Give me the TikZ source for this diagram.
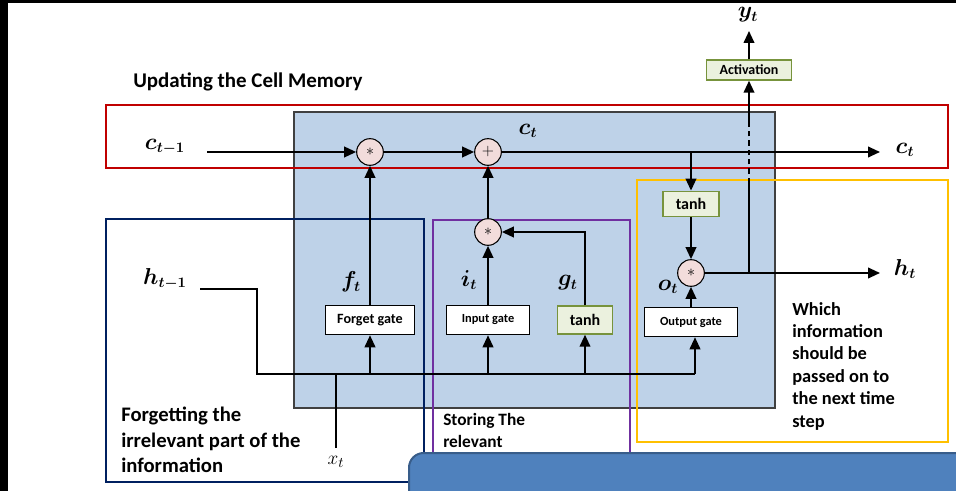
\documentclass[tikz,border=0pt]{standalone}
\usepackage{fontspec}
\setmainfont{Carlito}
\usepackage{bm}
\usetikzlibrary{arrows.meta, positioning, calc}

\definecolor{cellblue}{RGB}{190,210,232}
\definecolor{cellgrey}{RGB}{64,64,64}
\definecolor{redframe}{RGB}{192,0,0}
\definecolor{navyframe}{RGB}{0,32,96}
\definecolor{purpleframe}{RGB}{112,48,160}
\definecolor{yellowframe}{RGB}{255,192,0}
\definecolor{fnfill}{RGB}{235,241,222}
\definecolor{fngreen}{RGB}{119,147,60}
\definecolor{oppink}{RGB}{242,220,219}
\definecolor{bannerblue}{RGB}{79,129,189}
\definecolor{bannerdark}{RGB}{56,93,138}

\begin{document}
\begin{tikzpicture}[x=0.75pt, y=-0.75pt, >={Triangle[length=9pt,width=8pt]},
  flow/.style = {line width=1.4pt},
  op/.style   = {circle, draw, line width=0.8pt, fill=oppink,
                 minimum size=20pt, inner sep=0pt, font=\large},
  gate/.style = {draw, line width=0.9pt, fill=white, minimum height=22pt,
                 inner sep=1pt, font=\fontsize{9.3}{10}\selectfont\bfseries},
  fn/.style   = {draw=fngreen, line width=1.1pt, fill=fnfill, inner sep=1pt,
                 font=\fontsize{12}{13}\selectfont\bfseries},
  var/.style  = {font=\fontsize{16}{18}\selectfont},
  note/.style = {align=left, anchor=north west, inner sep=0pt}
]
\useasboundingbox (0,0) rectangle (956,491);
\clip (0,0) rectangle (956,491);

%% Screen edges
\fill[black] (0,0) rectangle (956,3);
\fill[black] (0,0) rectangle (8,491);

%% LSTM cell
\draw[fill=cellblue, draw=cellgrey, line width=1.5pt] (294,112) rectangle (775,408);

%% Highlight frames
\draw[redframe, line width=2pt]      (106,105) rectangle (948,168);
\draw[navyframe, line width=1.5pt]   (106,219) rectangle (424,482);
\draw[purpleframe, line width=1.5pt] (433,220) rectangle (630,500);
\draw[yellowframe, line width=2pt]   (637,180) rectangle (948,442);

\node[anchor=base west, inner sep=0pt, font=\fontsize{15.7}{18}\selectfont\bfseries] (title) at (133,88)
  {Updating the Cell Memory};

%% --- Pointwise operations ---
\node[op] (mulf) at (370,152) {$\ast$};
\node[op] (add)  at (488,152) {$+$};
\node[op] (muli) at (488,232) {$\ast$};
\node[op] (mulo) at (691,273) {$\ast$};

%% --- Gates and activations ---
\node[gate, minimum width=67pt, font=\fontsize{10.6}{11}\selectfont\bfseries] (fgate) at (370,320) {Forget gate};
\node[gate, minimum width=62pt] (igate) at (488,320) {Input gate};
\node[gate, minimum width=70pt] (ogate) at (691,322) {Output gate};
\node[fn, minimum width=41pt, minimum height=21pt] (gtanh) at (585,320) {tanh};
\node[fn, minimum width=42pt, minimum height=19pt] (ctanh) at (691,204) {tanh};
\node[fn, minimum width=64pt, minimum height=15pt,
      font=\fontsize{10.5}{11}\selectfont\bfseries] (act) at (749,70) {Activation};

%% --- Variables ---
\node[var] (cprev) at (165,147) {$\bm{c}_{\bm{t-1}}$};
\node[var] (ctop)  at (528,131) {$\bm{c}_{\bm{t}}$};
\node[var] (cnext) at (905,150) {$\bm{c}_{\bm{t}}$};
\node[var] (hprev) at (165,279) {$\bm{h}_{\bm{t-1}}$};
\node[var] (hnext) at (905,269) {$\bm{h}_{\bm{t}}$};
\node[var] (yt)    at (748,15)  {$\bm{y}_{\bm{t}}$};
\node[var] (ft)    at (351,282) {$\bm{f}_{\bm{t}}$};
\node[var] (it)    at (469,280) {$\bm{i}_{\bm{t}}$};
\node[var] (gt)    at (568,283) {$\bm{g}_{\bm{t}}$};
\node[var] (ot)    at (668,287) {$\bm{o}_{\bm{t}}$};
\node[font=\fontsize{15}{17}\selectfont] (xt) at (336,462) {$x_t$};

%% --- Notes ---
\node[note, font=\fontsize{15.5}{19}\selectfont\bfseries] (forgetnote) at (121,407)
  {Forgetting the\\irrelevant part of the\\information};
\node[note, font=\fontsize{13}{16.5}\selectfont\bfseries] (storenote) at (443,413)
  {Storing The\\relevant};
\node[note, font=\fontsize{13.8}{16.8}\selectfont\bfseries] (outnote) at (792,302)
  {Which\\information\\should be\\passed on to\\the next time\\step};

%% --- Junctions ---
\coordinate (cin)    at (207,152);
\coordinate (cend)   at (880,152);
\coordinate (csplit) at (691,152);
\coordinate (hend)   at (880,273);
\coordinate (hsplit) at (749,273);
\coordinate (hin)    at (200,289);
\coordinate (busL)   at (257,374);
\coordinate (busR)   at (695,374);
\coordinate (xin)    at (336,448);
\coordinate (dashlo) at (749,183);
\coordinate (dashhi) at (749,123);
\coordinate (yend)   at (749,31);

%% --- Cell state path ---
\draw[flow,->] (cin) -- (mulf);
\draw[flow,->] (mulf) -- (add);
\draw[flow,->] (add) -- (cend);

%% --- Forget / input paths ---
\draw[flow,->] (fgate) -- (mulf);
\draw[flow,->] (igate) -- (muli);
\draw[flow,->] (muli) -- (add);
\draw[flow,->] (gtanh) |- (muli);

%% --- Output path ---
\draw[flow,->] (csplit) -- (ctanh);
\draw[flow,->] (ctanh) -- (mulo);
\draw[flow,->] (ogate) -- (mulo);
\draw[flow,->] (mulo) -- (hend);
\draw[flow] (hsplit) -- (dashlo);
\draw[flow, dash pattern=on 4pt off 3pt] (dashlo) -- (dashhi);
\draw[flow,->] (dashhi) -- (act);
\draw[flow,->] (act) -- (yend);

%% --- Input bus ---
\draw[flow] (hin) -| (busL) -- (busR);
\draw[flow,->] (busR) -- (busR |- ogate.south);
\draw[flow,->] (fgate |- busL) -- (fgate);
\draw[flow,->] (igate |- busL) -- (igate);
\draw[flow,->] (gtanh |- busL) -- (gtanh);
\draw[flow] (xin) -- (xin |- busL);

%% Banner
\draw[fill=bannerblue, draw=bannerdark, line width=1.5pt, rounded corners=11pt]
  (409,453) rectangle (990,530);
\end{tikzpicture}
\end{document}
